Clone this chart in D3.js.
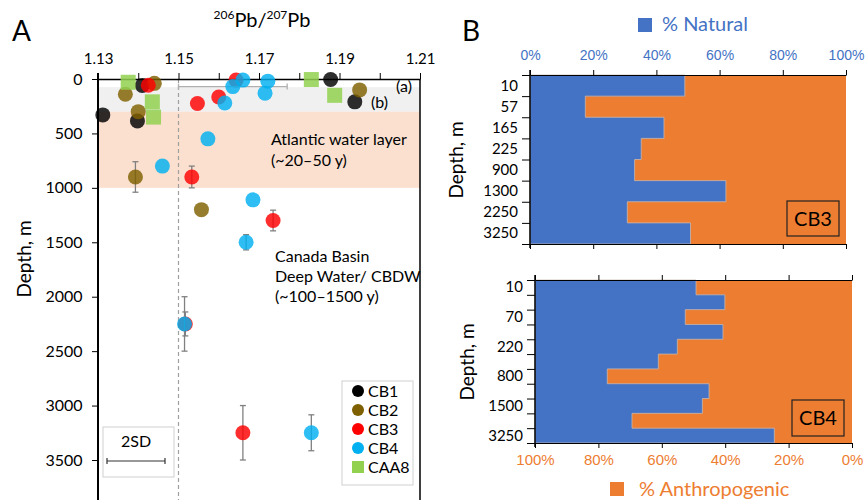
<!DOCTYPE html>
<html><head><meta charset="utf-8">
<script src="https://cdn.jsdelivr.net/npm/d3@7"></script>
<style>body{margin:0;background:#fff} svg{display:block;font-family:Lato,'Open Sans',sans-serif}</style>
</head><body><svg id="c" width="866" height="500"></svg>
<script>
// ---------- Panel A data ----------
const ratioTicks = [1.13, 1.14, 1.15, 1.16, 1.17, 1.18, 1.19, 1.20, 1.21];
const depthTicks = [0, 500, 1000, 1500, 2000, 2500, 3000, 3500];

const cb1Ratio = [1.1878, 1.1410, 1.1938, 1.1312, 1.1398];
const cb1Depth = [5, 60, 210, 330, 385];
const cb1Err   = [0, 0, 0, 0, 0];

const cb2Ratio = [1.1440, 1.1368, 1.1950, 1.1400, 1.1393, 1.1557];
const cb2Depth = [40, 140, 100, 300, 900, 1200];
const cb2Err   = [0, 0, 0, 0, 140, 0];

const cb3Ratio = [1.1643, 1.1425, 1.1600, 1.1547, 1.1533, 1.1735, 1.1517, 1.1660];
const cb3Depth = [10, 57, 165, 225, 900, 1300, 2250, 3250];
const cb3Err   = [0, 0, 0, 0, 100, 95, 110, 250];

const cb4Ratio = [1.1660, 1.1722, 1.1635, 1.1715, 1.1615, 1.1573, 1.1460, 1.1685, 1.1668, 1.1515, 1.1830];
const cb4Depth = [10, 20, 70, 130, 220, 550, 800, 1110, 1500, 2250, 3250];
const cb4Err   = [0, 0, 0, 0, 0, 0, 0, 0, 70, 250, 165];
const cb4RatioErr = [0, 0, 0.0135, 0, 0, 0, 0, 0, 0, 0, 0];

const caa8Ratio = [1.1375, 1.1830, 1.1888, 1.1435, 1.1438];
const caa8Depth = [30, 5, 150, 210, 350];

const seriesNames = ["CB1", "CB2", "CB3", "CB4", "CAA8"];
const seriesColors = ["#000000", "#7f6000", "#ff0000", "#00b0f0", "#92d050"];

// ---------- Panel B data ----------
const cb3Labels  = ["10", "57", "165", "225", "900", "1300", "2250", "3250"];
const cb3Natural = [49.0, 17.5, 42.4, 35.2, 33.1, 62.0, 30.8, 50.8];
const cb4Labels  = ["10", "", "70", "", "220", "", "800", "", "1500", "", "3250"];
const cb4Natural = [50.8, 59.9, 47.4, 59.3, 44.9, 38.9, 22.8, 54.9, 52.8, 30.6, 75.5];
const pctTicks = [0, 20, 40, 60, 80, 100];

const svg = d3.select("#c");
const BLUE = "#4472c4", ORANGE = "#ed7d31";

// ================= Panel A =================
const x = d3.scaleLinear().domain([1.13, 1.21]).range([98, 420]);
const y = d3.scaleLinear().domain([0, 3500]).range([79, 460]);
const A = svg.append("g");

// background bands
A.append("rect").attr("x", x(1.13)).attr("width", x(1.21) - x(1.13))
  .attr("y", y(75)).attr("height", y(300) - y(75)).attr("fill", "#f0f0f0");
A.append("rect").attr("x", x(1.13)).attr("width", x(1.21) - x(1.13))
  .attr("y", y(300)).attr("height", y(1000) - y(300)).attr("fill", "#fbe0d0");

// dashed reference line
A.append("line").attr("x1", x(1.15)).attr("x2", x(1.15)).attr("y1", y(0)).attr("y2", 500)
  .attr("stroke", "#a0a0a0").attr("stroke-dasharray", "4,3").attr("stroke-width", 1.2);

// axes
const xAxis = d3.axisTop(x).tickValues(ratioTicks).tickSize(6).tickSizeOuter(0)
  .tickFormat((d, i) => i % 2 === 0 ? d3.format(".2f")(d) : "");
const gx = A.append("g").attr("transform", `translate(0,${y(0)})`).call(xAxis);
gx.select(".domain").attr("stroke-width", 1.5);
gx.selectAll("text").attr("font-size", 15).attr("font-family", "Lato").attr("fill", "#000").attr("dy", "-0.4em");

const yAxis = d3.axisLeft(y).tickValues(depthTicks).tickSize(6).tickSizeOuter(0).tickFormat(d3.format("d"));
const gy = A.append("g").attr("transform", `translate(${x(1.13)},0)`).call(yAxis);
gy.select(".domain").remove();
gy.selectAll("text").attr("font-size", 16).attr("font-family", "Lato").attr("fill", "#000").attr("dx", "-0.4em");
A.append("line").attr("x1", x(1.13)).attr("x2", x(1.13)).attr("y1", y(0) - 6).attr("y2", 500)
  .attr("stroke", "#000").attr("stroke-width", 2);
A.append("line").attr("x1", x(1.21)).attr("x2", x(1.21)).attr("y1", y(0)).attr("y2", 500)
  .attr("stroke", "#000").attr("stroke-width", 1.5);

// annotation text
const t16 = (g, tx, ty, s, anchor) => g.append("text").attr("x", tx).attr("y", ty)
  .attr("font-size", 16).attr("text-anchor", anchor || "start").text(s);
t16(A, 396, 92, "(a)");
t16(A, 371, 108, "(b)");
t16(A, 271, 145, "Atlantic water layer");
t16(A, 271, 166, "(~20–50 y)");
t16(A, 275, 262, "Canada Basin");
t16(A, 275, 282, "Deep Water/ CBDW");
t16(A, 275, 302, "(~100–1500 y)");

// titles
svg.append("text").attr("x", 12).attr("y", 41).attr("font-size", 28).text("A");
const tt = svg.append("text").attr("x", 262).attr("y", 27).attr("text-anchor", "middle").attr("font-size", 20);
tt.append("tspan").attr("font-size", 12).attr("dy", -8).text("206");
tt.append("tspan").attr("dy", 8).text("Pb/");
tt.append("tspan").attr("font-size", 12).attr("dy", -8).text("207");
tt.append("tspan").attr("dy", 8).text("Pb");
svg.append("text").attr("transform", "translate(31,259) rotate(-90)").attr("text-anchor", "middle")
  .attr("font-size", 19).text("Depth, m");

// points
const series = [
  {ratio: cb1Ratio, depth: cb1Depth, err: cb1Err},
  {ratio: cb2Ratio, depth: cb2Depth, err: cb2Err},
  {ratio: cb3Ratio, depth: cb3Depth, err: cb3Err},
  {ratio: cb4Ratio, depth: cb4Depth, err: cb4Err, xerr: cb4RatioErr},
  {ratio: caa8Ratio, depth: caa8Depth, square: true}
];
series.forEach((s, si) => {
  const pts = s.ratio.map((r, i) => ({r, d: s.depth[i], e: s.err ? s.err[i] : 0, xe: s.xerr ? s.xerr[i] : 0}));
  const g = A.append("g");
  pts.filter(p => p.e > 0).forEach(p => {
    const cx = x(p.r);
    g.append("line").attr("x1", cx).attr("x2", cx).attr("y1", y(p.d - p.e)).attr("y2", y(p.d + p.e)).attr("stroke", "#808080").attr("stroke-width", 1.3);
    [p.d - p.e, p.d + p.e].forEach(v => g.append("line").attr("x1", cx - 3).attr("x2", cx + 3).attr("y1", y(v)).attr("y2", y(v)).attr("stroke", "#808080").attr("stroke-width", 1.3));
  });
  pts.filter(p => p.xe > 0).forEach(p => {
    const cy = y(p.d);
    g.append("line").attr("x1", x(p.r - p.xe)).attr("x2", x(p.r + p.xe)).attr("y1", cy).attr("y2", cy).attr("stroke", "#b0b0b0").attr("stroke-width", 1.3);
    [p.r - p.xe, p.r + p.xe].forEach(v => g.append("line").attr("x1", x(v)).attr("x2", x(v)).attr("y1", cy - 3).attr("y2", cy + 3).attr("stroke", "#b0b0b0").attr("stroke-width", 1.3));
  });
  if (s.square) {
    g.selectAll("rect.pt").data(pts).join("rect").attr("class", "pt")
      .attr("x", p => x(p.r) - 7.5).attr("y", p => y(p.d) - 7.5).attr("width", 15).attr("height", 15)
      .attr("fill", seriesColors[si]).attr("fill-opacity", 0.85);
  } else {
    g.selectAll("circle").data(pts).join("circle")
      .attr("cx", p => x(p.r)).attr("cy", p => y(p.d)).attr("r", 7.5)
      .attr("fill", seriesColors[si]).attr("fill-opacity", 0.82);
  }
});

// legend
const L = A.append("g");
L.append("rect").attr("x", 342).attr("y", 381).attr("width", 71).attr("height", 104)
  .attr("fill", "#fff").attr("stroke", "#d0d0d0");
seriesNames.forEach((n, i) => {
  const ly = 391 + i * 19;
  if (i === 4) L.append("rect").attr("x", 352).attr("y", ly - 6).attr("width", 12).attr("height", 12).attr("fill", seriesColors[i]);
  else L.append("circle").attr("cx", 358).attr("cy", ly).attr("r", 6).attr("fill", seriesColors[i]);
  L.append("text").attr("x", 368).attr("y", ly + 6).attr("font-size", 16).text(n);
});
// 2SD box
L.append("rect").attr("x", 103).attr("y", 427).attr("width", 71).attr("height", 50)
  .attr("fill", "#fff").attr("stroke", "#d0d0d0");
L.append("text").attr("x", 136).attr("y", 447).attr("font-size", 16).attr("text-anchor", "middle").text("2SD");
L.append("line").attr("x1", 107).attr("x2", 165).attr("y1", 461).attr("y2", 461).attr("stroke", "#333").attr("stroke-width", 1.2);
[107, 165].forEach(v => L.append("line").attr("x1", v).attr("x2", v).attr("y1", 458).attr("y2", 464).attr("stroke", "#333").attr("stroke-width", 1.2));

// ================= Panel B =================
svg.append("text").attr("x", 462).attr("y", 41).attr("font-size", 28).text("B");

function stackPanel(labels, natural, x0, x1, y0, y1, topLabels, boxText, box) {
  const g = svg.append("g");
  const bx = d3.scaleLinear().domain([0, 100]).range([x0, x1]);
  const by = d3.scaleLinear().domain([0, labels.length]).range([y0, y1]);
  // anthropogenic share fills the panel; natural share is a stepped area from the left
  g.append("rect").attr("x", bx(0)).attr("y", by(0)).attr("width", bx(100) - bx(0))
    .attr("height", by(labels.length) - by(0)).attr("fill", ORANGE);
  let d = `M${bx(0)},${by(0)}`;
  natural.forEach((v, i) => { d += `L${bx(v)},${by(i)}L${bx(v)},${by(i + 1)}`; });
  d += `L${bx(0)},${by(natural.length)}Z`;
  g.append("path").attr("d", d).attr("fill", BLUE).attr("stroke", "#c9b8ad").attr("stroke-width", 0.8);

  const top = d3.axisTop(bx).tickValues(pctTicks).tickSize(5).tickSizeOuter(0)
    .tickFormat(topLabels ? t => t + "%" : "");
  const gt = g.append("g").attr("transform", `translate(0,${y0})`).call(top);
  gt.selectAll("text").attr("font-size", 14).attr("fill", BLUE).attr("dy", "-0.5em");
  const bot = d3.axisBottom(bx).tickValues(pctTicks).tickSize(5).tickSizeOuter(0)
    .tickFormat(topLabels ? "" : t => (100 - t) + "%");
  const gb = g.append("g").attr("transform", `translate(0,${y1})`).call(bot);
  gb.selectAll("text").attr("font-size", 15).attr("fill", ORANGE).attr("dy", "0.9em");
  const left = d3.axisLeft(by).tickValues(d3.range(labels.length + 1)).tickSize(8).tickSizeOuter(0).tickFormat("");
  const gl = g.append("g").attr("transform", `translate(${x0},0)`).call(left);
  gl.select(".domain").attr("d", `M0,${y0 - 5}V${y1 + 4}`).attr("stroke-width", 1.5);
  g.selectAll("text.lab").data(labels).join("text").attr("class", "lab")
    .attr("x", x0 - 12).attr("y", (t, i) => by(i + 0.5) + 5).attr("text-anchor", "end")
    .attr("font-size", 15).text(t => t);
  g.append("rect").attr("x", box[0]).attr("y", box[1]).attr("width", box[2]).attr("height", box[3])
    .attr("fill", "none").attr("stroke", "#222").attr("stroke-width", 1.2);
  g.append("text").attr("x", box[0] + box[2] / 2).attr("y", box[1] + box[3] / 2 + 7)
    .attr("text-anchor", "middle").attr("font-size", 20).text(boxText);
}
stackPanel(cb3Labels, cb3Natural, 530, 846, 75, 244, true, "CB3", [787, 201, 52, 35]);
stackPanel(cb4Labels, cb4Natural, 535, 852, 280, 443, false, "CB4", [792, 400, 52, 36]);

svg.append("text").attr("transform", "translate(463,160) rotate(-90)").attr("text-anchor", "middle")
  .attr("font-size", 19).text("Depth, m");
svg.append("text").attr("transform", "translate(474,362) rotate(-90)").attr("text-anchor", "middle")
  .attr("font-size", 19).text("Depth, m");

// legends for B
svg.append("rect").attr("x", 638).attr("y", 18).attr("width", 14).attr("height", 14).attr("fill", BLUE);
svg.append("text").attr("x", 662).attr("y", 31).attr("font-size", 20).attr("fill", BLUE).text("% Natural");
svg.append("rect").attr("x", 610).attr("y", 482).attr("width", 14).attr("height", 14).attr("fill", ORANGE);
svg.append("text").attr("x", 639).attr("y", 496).attr("font-size", 20).attr("fill", ORANGE).text("% Anthropogenic");
</script></body></html>
